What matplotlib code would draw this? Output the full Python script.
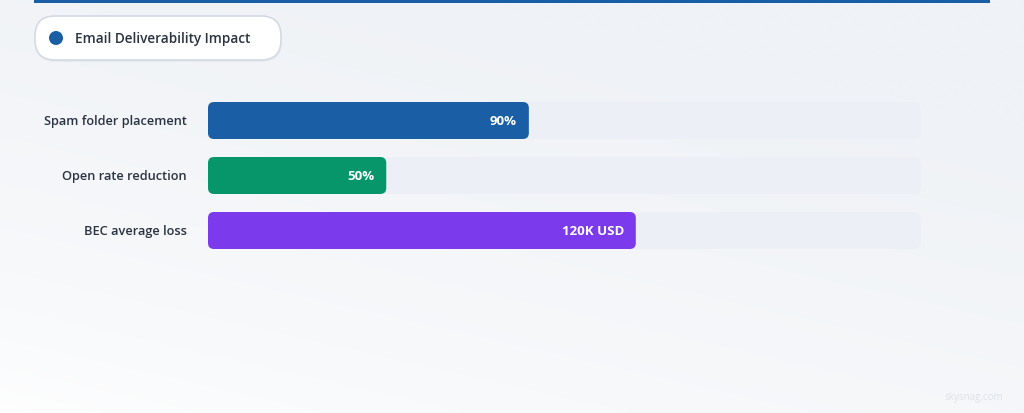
import numpy as np
import matplotlib.pyplot as plt
from matplotlib.patches import FancyBboxPatch, Rectangle, Circle

# data
categories = ["Spam folder placement", "Open rate reduction", "BEC average loss"]
values = [90, 50, 120]
value_labels = ["90%", "50%", "120K USD"]
bar_colors = ["#1a5fa6", "#069669", "#7c3aed"]
scale_max = 200
legend_label = "Email Deliverability Impact"

FONT = "Open Sans"

W, H = 1024, 414
fig = plt.figure(figsize=(W / 100, H / 100), dpi=100)

# background gradient
bg = fig.add_axes([0, 0, 1, 1])
yy, xx = np.mgrid[0:1:200j, 0:1:400j]
t = np.clip(0.45 * xx + 0.8 * yy, 0, 1) ** 0.6
c0 = np.array([1.0, 1.0, 1.0])
c1 = np.array([0xef, 0xf2, 0xf6]) / 255
img = c0 + (c1 - c0) * t[..., None]
bg.imshow(img, origin="lower", extent=[0, W, 0, H], aspect="auto")
bg.set_xlim(0, W)
bg.set_ylim(0, H)
bg.axis("off")

# top accent line
bg.add_patch(Rectangle((34, H - 4), 956, 4, color="#1a5fa6", lw=0))

# legend pill
bg.add_patch(FancyBboxPatch((36, H - 63), 246, 44, boxstyle="round,pad=0,rounding_size=20",
                            fc="#dfe4ea", ec="none", alpha=0.5))
bg.add_patch(FancyBboxPatch((35, H - 61), 246, 44, boxstyle="round,pad=0,rounding_size=20",
                            fc="white", ec="#d3dae4", lw=1.2))
bg.add_patch(Circle((56, H - 39), 7, color=bar_colors[0], lw=0))
bg.text(75, H - 39.5, legend_label, fontsize=9.8, fontweight="semibold", color="#2a3342",
        va="center", ha="left", family=FONT)

# watermark
bg.text(1003, H - 398, "skysnag.com", fontsize=7, color="#dde2e8", ha="right", va="center",
        family=FONT)

# bars
ax = fig.add_axes([208 / W, 1 - 259 / H, 713 / W, 165 / H])
ax.set_xlim(0, scale_max)
ax.set_ylim(len(categories) - 0.5, -0.5)
ax.axis("off")

bh = 37 / 55
upx_x = scale_max / 713
upx_y = 3 / 165
aspect = upx_y / upx_x

for i, (cat, v, lab, col) in enumerate(zip(categories, values, value_labels, bar_colors)):
    ax.add_patch(FancyBboxPatch((0, i - bh / 2), scale_max, bh,
                                boxstyle=f"round,pad=0,rounding_size={8 * upx_x}",
                                mutation_aspect=aspect, fc="#ecf0f6", ec="none"))
    ax.add_patch(FancyBboxPatch((0, i - bh / 2), v, bh,
                                boxstyle=f"round,pad=0,rounding_size={6 * upx_x}",
                                mutation_aspect=aspect, fc=col, ec="none"))
    ax.text(v - 12 * upx_x, i, lab, color="white", fontsize=9.5, fontweight="bold",
            ha="right", va="center", family=FONT)
    ax.text(-21 * upx_x, i, cat, color="#2a3342", fontsize=9.2, fontweight="semibold",
            ha="right", va="center", family=FONT, clip_on=False)

fig.savefig("out.png", dpi=100)
